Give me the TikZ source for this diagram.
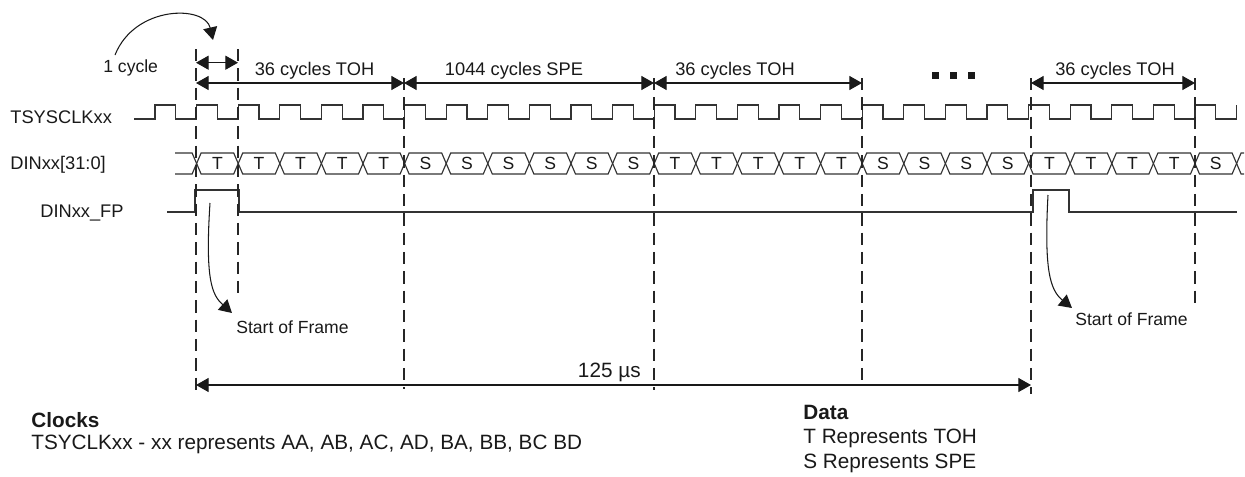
\documentclass[tikz,border=0pt]{standalone}
\usepackage{fontspec}
\setmainfont{Liberation Sans}
\usetikzlibrary{arrows.meta}
\begin{document}
\begin{tikzpicture}[x=0.02cm,y=-0.02cm,
  wave/.style={line width=0.65pt, line join=miter, draw=black!80},
  vdash/.style={line width=0.6pt, dash pattern=on 7pt off 4pt, draw=black!85},
  tipA/.tip={Triangle[length=7.2pt,width=8pt]},
  dimarr/.style={line width=0.6pt, draw=black!90, {tipA}-{tipA}},
  curvarr/.style={line width=0.6pt, draw=black!90, -{tipA}},
  lbl/.style={font=\fontsize{10}{12}\selectfont, inner sep=0pt, text=black!90},
  siglbl/.style={font=\fontsize{10.4}{12}\selectfont, inner sep=0pt, text=black!90},
  toplbl/.style={font=\fontsize{10.4}{12}\selectfont, inner sep=0pt, text=black!90},
  cellt/.style={font=\fontsize{10}{12}\selectfont, inner sep=0pt, text=black!90},
  leg/.style={font=\fontsize{11.8}{14}\selectfont, inner sep=0pt, text=black!90},
  bold/.style={font=\fontsize{11.8}{14}\selectfont\bfseries, inner sep=0pt, text=black!90}
]
\useasboundingbox (0,0) rectangle (1245,477);

% ---------- signal names ----------
\node[siglbl, anchor=base west] (nclk) at (10,123.5) {TSYSCLKxx};
\node[siglbl, anchor=base west] (ndin) at (10,169.5) {DINxx[31:0]};
\node[siglbl, anchor=base west] (nfp)  at (40,217.5) {DINxx\_FP};

% ---------- clock ----------
\draw[wave] (134,119) foreach \k in {0,...,25} { -- ({155+41.6*\k},119) -- ++(0,-14) -- ++(20.8,0) -- ++(0,14) } -- (1236.6,119) -- ++(0,-14);

% ---------- data bus ----------
\draw[wave] (175,153) -- (192.1,153) -- (196.6,163.5) -- (192.1,174) -- (175,174);
\foreach \k in {1,...,25} {
  \draw[wave] ({155+41.6*\k},163.5) -- ({159.5+41.6*\k},153) -- ({150.5+41.6*(\k+1)},153)
     -- ({155+41.6*(\k+1)},163.5) -- ({150.5+41.6*(\k+1)},174) -- ({159.5+41.6*\k},174) -- cycle;
}
\draw[wave] (1244,153) -- (1241.1,153) -- (1236.6,163.5) -- (1241.1,174) -- (1244,174);
\foreach \k/\l in {1/T,2/T,3/T,4/T,5/T,6/S,7/S,8/S,9/S,10/S,11/S,12/T,13/T,14/T,15/T,16/T,17/S,18/S,19/S,20/S,21/T,22/T,23/T,24/T,25/S} {
  \node[cellt] (c\k) at ({175.8+41.6*\k},163.5) {\l};
}

% ---------- frame pulse ----------
\draw[wave] (167,212) -- (195,212) -- (195,190) -- (239,190) -- (239,212) -- (1033,212) -- (1033,190) -- (1069,190) -- (1069,212) -- (1237,212);

% ---------- dashed reference lines ----------
\coordinate (v1t) at (196,49);   \coordinate (v1b) at (196,390);
\coordinate (v2t) at (238,49);   \coordinate (v2b) at (238,295);
\coordinate (v3t) at (404,78);   \coordinate (v3b) at (404,389);
\coordinate (v4t) at (654,78);   \coordinate (v4b) at (654,390);
\coordinate (v5t) at (862,78);   \coordinate (v5b) at (862,381);
\coordinate (v6t) at (1031,78);  \coordinate (v6b) at (1031,394);
\coordinate (v7t) at (1195,78);  \coordinate (v7b) at (1195,305);
\foreach \i in {1,...,7} { \draw[vdash] (v\i t) -- (v\i b); }

% ---------- dimension arrows ----------
\draw[dimarr] (196,62.7) -- (238,62.7);
\draw[dimarr] (196,83) -- (404,83);
\draw[dimarr] (404,83) -- (654,83);
\draw[dimarr] (654,83) -- (862,83);
\draw[dimarr] (1031,83) -- (1195,83);
\draw[dimarr] (196,385) -- (1031,385);

\node[toplbl, anchor=base] (l1) at (314.5,75) {36 cycles TOH};
\node[toplbl, anchor=base] (l2) at (514,75) {1044 cycles SPE};
\node[toplbl, anchor=base] (l3) at (735,75) {36 cycles TOH};
\node[toplbl, anchor=base] (l4) at (1115,75) {36 cycles TOH};
\node[lbl, anchor=base west] (lc) at (103,72.5) {1 cycle};
\node[leg, anchor=base east] (lus) at (641,377) {125 µs};

% ---------- dots ----------
\foreach \x in {932,950,968} { \fill[black!90] (\x,72) rectangle ++(7,7); }

% ---------- curved arrows ----------
\draw[curvarr] (115,55) .. controls (135,5) and (205,5) .. (213,40);
\node[lbl, anchor=base west] (sof1) at (236,333) {Start of Frame};
\draw[curvarr] (210,203) .. controls (205,280) and (212,295) .. (232,313);
\node[lbl, anchor=base west] (sof2) at (1075,325) {Start of Frame};
\draw[curvarr] (1048,195) .. controls (1044,270) and (1050,290) .. (1072,308);

% ---------- legend ----------
\node[bold, anchor=base west] (clk) at (31,427.5) {Clocks};
\node[leg, anchor=base west] (clkt) at (31,449) {TSYCLKxx - xx represents AA, AB, AC, AD, BA, BB, BC BD};
\node[bold, anchor=base west] (dat) at (803,419) {Data};
\node[leg, anchor=base west] (datT) at (803,443.5) {T Represents TOH};
\node[leg, anchor=base west] (datS) at (803,468) {S Represents SPE};
\end{tikzpicture}
\end{document}
